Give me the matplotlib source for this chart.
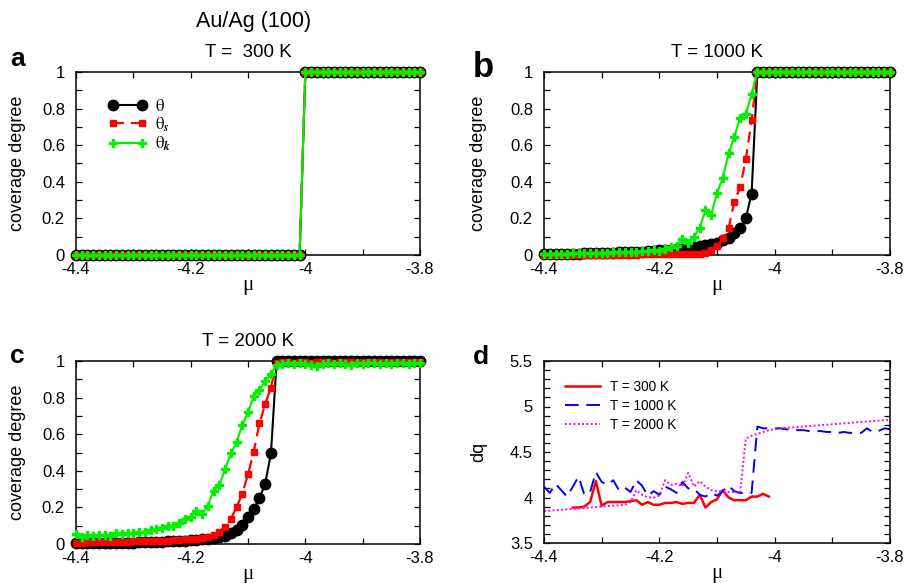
import numpy as np
import matplotlib
matplotlib.use("Agg")
import matplotlib.pyplot as plt
from matplotlib.ticker import MultipleLocator, FuncFormatter

plt.rcParams['font.family'] = ['Liberation Sans', 'DejaVu Sans']
plt.rcParams['mathtext.fontset'] = 'stix'
plt.rcParams['axes.unicode_minus'] = False

# ---------------- data ----------------
mu = np.round(np.linspace(-4.40, -3.80, 61), 2)

# panel a (T = 300 K): step between -4.01 and -4.00
a_theta = [0.0] * 40 + [1.0] * 21
a_theta_s = [0.0] * 40 + [1.0] * 21
a_theta_k = [0.0] * 40 + [1.0] * 21

# panel b (T = 1000 K): -4.40 .. -4.04, then 1 from -4.03
b_theta = [0.005, 0.005, 0.006, 0.006, 0.007, 0.007, 0.008, 0.009, 0.010, 0.010,
           0.011, 0.012, 0.013, 0.014, 0.015, 0.016, 0.018, 0.019, 0.021, 0.023,
           0.025, 0.027, 0.029, 0.032, 0.035, 0.038, 0.042, 0.047, 0.053, 0.060,
           0.068, 0.080, 0.095, 0.120, 0.145, 0.200, 0.335] + [1.0] * 24
b_theta_s = [0.001, 0.001, 0.001, 0.001, 0.001, 0.001, 0.001, 0.001, 0.001, 0.001,
             0.002, 0.002, 0.002, 0.002, 0.002, 0.002, 0.002, 0.003, 0.003, 0.003,
             0.003, 0.003, 0.004, 0.004, 0.004, 0.005, 0.005, 0.008, 0.012, 0.025,
             0.047, 0.093, 0.147, 0.289, 0.369, 0.524, 0.735] + [1.0] * 24
b_theta_k = [0.005, 0.006, 0.007, 0.007, 0.008, 0.009, 0.009, 0.010, 0.011, 0.012,
             0.012, 0.013, 0.014, 0.015, 0.016, 0.017, 0.018, 0.020, 0.022, 0.030,
             0.020, 0.035, 0.045, 0.050, 0.085, 0.065, 0.100, 0.150, 0.245, 0.220,
             0.340, 0.420, 0.555, 0.645, 0.750, 0.770, 0.880] + [1.0] * 24

# panel c (T = 2000 K): -4.40 .. -4.06, then near 1 from -4.05
c_theta = [0.003, 0.003, 0.004, 0.004, 0.005, 0.005, 0.006, 0.006, 0.007, 0.008,
           0.008, 0.009, 0.010, 0.011, 0.012, 0.013, 0.014, 0.016, 0.017, 0.019,
           0.021, 0.023, 0.026, 0.029, 0.033, 0.038, 0.046, 0.058, 0.077, 0.105,
           0.145, 0.190, 0.250, 0.330, 0.495] + [1.0] * 26
c_theta_s = [0.008, 0.008, 0.009, 0.009, 0.010, 0.010, 0.011, 0.011, 0.012, 0.013,
             0.014, 0.014, 0.015, 0.016, 0.017, 0.018, 0.019, 0.020, 0.022, 0.025,
             0.028, 0.030, 0.035, 0.040, 0.050, 0.067, 0.095, 0.137, 0.200, 0.275,
             0.380, 0.505, 0.660, 0.765, 0.855,
             0.990, 0.995, 0.995, 0.990, 0.995, 0.995, 0.990, 0.995, 0.995, 0.995,
             0.990, 0.995, 0.995, 0.995, 0.990, 0.995, 0.995, 0.995, 0.995, 0.990,
             0.995, 0.995, 0.995, 0.995, 0.995, 0.995]
c_theta_k = [0.055, 0.040, 0.050, 0.045, 0.050, 0.050, 0.045, 0.060, 0.055, 0.060,
             0.060, 0.065, 0.065, 0.075, 0.080, 0.090, 0.100, 0.100, 0.115, 0.135,
             0.150, 0.180, 0.165, 0.210, 0.290, 0.320, 0.410, 0.495, 0.555, 0.650,
             0.720, 0.810, 0.840, 0.890, 0.930,
             0.980, 0.985, 0.990, 0.985, 0.990, 0.985, 0.980, 0.975, 0.985, 0.990,
             0.985, 0.990, 0.985, 0.980, 0.990, 0.985, 0.990, 0.990, 0.985, 0.990,
             0.985, 0.990, 0.990, 0.985, 0.990, 0.990]

# panel d: dq
d_mu_300 = mu[5:40]
d_300 = [3.89, 3.89, 3.90, 3.95, 4.18, 3.91, 3.95, 3.95, 3.95, 3.95,
         3.96, 3.97, 3.92, 3.95, 3.92, 3.92, 3.94, 3.94, 3.95, 3.93,
         3.94, 3.94, 4.03, 3.89, 3.95, 3.98, 4.08, 4.00, 3.97, 3.97,
         3.97, 4.01, 4.01, 4.04, 4.01]
d_1000 = [4.12, 4.05, 4.15, 4.08, 4.01, 4.12, 4.23, 4.03, 4.06, 4.28,
          4.17, 4.14, 4.19, 4.08, 4.11, 4.06, 4.19, 4.13, 4.02, 4.07,
          4.03, 4.12, 4.09, 4.05, 4.17, 4.10, 4.10, 4.03, 4.01, 4.05,
          4.02, 4.07, 4.13, 4.07, 4.05, 4.05, 4.05, 4.78, 4.76, 4.76,
          4.76, 4.76, 4.75, 4.74, 4.74, 4.74, 4.73, 4.73, 4.73, 4.72,
          4.72, 4.71, 4.72, 4.71, 4.71, 4.71, 4.76, 4.72, 4.73, 4.76,
          4.75]
d_2000 = [3.85, 3.855, 3.86, 3.865, 3.87, 3.875, 3.88, 3.885, 3.89, 3.895,
          3.90, 3.905, 3.91, 3.915, 3.92, 3.95, 4.08, 4.03, 4.00, 4.00,
          4.02, 4.19, 4.14, 4.15, 4.12, 4.27, 4.12, 4.18, 4.12, 4.08,
          4.07, 4.07, 4.06, 4.06, 4.05, 4.65, 4.68, 4.70, 4.72, 4.74,
          4.75, 4.76, 4.765, 4.77, 4.775, 4.78, 4.785, 4.79, 4.795, 4.80,
          4.805, 4.81, 4.815, 4.82, 4.825, 4.83, 4.835, 4.84, 4.845, 4.85,
          4.85]

titles = ['T =  300 K', 'T = 1000 K', 'T = 2000 K']
legend_cov = [r'$\mathrm{\theta}$', r'$\mathrm{\theta}_{\mathbfit{s}}$',
              r'$\mathrm{\theta}_{\mathbfit{k}}$']
legend_dq = ['T = 300 K', 'T = 1000 K', 'T = 2000 K']

# ---------------- figure ----------------
W, H = 908, 583
fig = plt.figure(figsize=(W / 100, H / 100), dpi=100)

def rect(l, r, t, b):
    return [l / W, 1 - b / H, (r - l) / W, (b - t) / H]

ax_a = fig.add_axes(rect(76, 420, 72, 255))
ax_b = fig.add_axes(rect(544, 890, 72, 255))
ax_c = fig.add_axes(rect(76, 420, 361, 544))
ax_d = fig.add_axes(rect(544, 890, 361, 543))

BLACK, RED, GREEN = '#000000', '#ff0000', '#00f000'

def fmt(v, pos):
    return '%g' % v

def style(ax, ylo, yhi, ymaj, ymin, ylabel, ylx):
    ax.set_xlim(-4.4, -3.8)
    ax.set_ylim(ylo, yhi)
    ax.xaxis.set_major_locator(MultipleLocator(0.2))
    ax.xaxis.set_minor_locator(MultipleLocator(0.1))
    ax.yaxis.set_major_locator(MultipleLocator(ymaj))
    ax.yaxis.set_minor_locator(MultipleLocator(ymin))
    ax.xaxis.set_major_formatter(FuncFormatter(fmt))
    ax.yaxis.set_major_formatter(FuncFormatter(fmt))
    ax.tick_params(which='both', direction='in', top=True, right=True,
                   length=4, width=0.9, labelsize=12)
    ax.tick_params(axis='x', pad=5)
    ax.tick_params(axis='y', pad=8)
    for s in ax.spines.values():
        s.set_linewidth(1.1)
    ax.set_ylabel(ylabel, fontsize=13)
    ax.yaxis.set_label_coords(ylx, 0.5)
    ax.set_xlabel('μ', fontsize=15, labelpad=-1, family='Liberation Serif')

def cov(ax, th, ths, thk, ylx):
    ax.plot(mu, th, '-', color=BLACK, lw=1.5, marker='o', ms=7.5,
            mfc=BLACK, mec=BLACK, clip_on=False, zorder=3, label=legend_cov[0])
    ax.plot(mu, ths, '--', color=RED, lw=1.6, dashes=(5, 3), marker='s', ms=4.8,
            mfc=RED, mec=RED, clip_on=False, zorder=4, label=legend_cov[1])
    ax.plot(mu, thk, '-', color=GREEN, lw=1.5, marker='P', ms=5.5,
            mfc=GREEN, mec=GREEN, clip_on=False, zorder=5, label=legend_cov[2])
    style(ax, 0, 1, 0.2, 0.1, 'coverage degree', ylx)

cov(ax_a, a_theta, a_theta_s, a_theta_k, -0.145)
cov(ax_b, b_theta, b_theta_s, b_theta_k, -0.165)
cov(ax_c, c_theta, c_theta_s, c_theta_k, -0.145)

ax_a.set_title(titles[0], fontsize=13.5, pad=11)
ax_b.set_title(titles[1], fontsize=13.5, pad=11)
ax_c.set_title(titles[2], fontsize=13.5, pad=11)

ax_a.legend(loc='upper left', bbox_to_anchor=(0.075, 0.895), frameon=False,
            fontsize=12, handlelength=2.3, handletextpad=0.5,
            labelspacing=0.08, numpoints=2, borderaxespad=0)

# panel d
ax_d.plot(d_mu_300, d_300, '-', color=RED, lw=1.8, label=legend_dq[0])
ax_d.plot(mu, d_1000, '--', color='#0000ff', lw=1.4, dashes=(7, 4), label=legend_dq[1])
ax_d.plot(mu, d_2000, ':', color='#ff00ff', lw=1.4, dashes=(1, 1.2), label=legend_dq[2])
style(ax_d, 3.5, 5.5, 0.5, 0.1, 'dq', -0.165)
ax_d.legend(loc='upper left', bbox_to_anchor=(0.045, 0.925), frameon=False,
            fontsize=9.8, handlelength=2.6, handletextpad=0.7,
            labelspacing=0.35, borderaxespad=0)

# texts
fig.text(254 / W, 1 - 22 / H, 'Au/Ag (100)', fontsize=15.5, ha='center', va='center')
fig.text(10 / W, 1 - 66 / H, 'a', fontsize=19, fontweight='bold', ha='left', va='baseline')
fig.text(473 / W, 1 - 77 / H, 'b', fontsize=25, fontweight='bold', ha='left', va='baseline')
fig.text(10 / W, 1 - 363 / H, 'c', fontsize=19, fontweight='bold', ha='left', va='baseline')
fig.text(473 / W, 1 - 364 / H, 'd', fontsize=19, fontweight='bold', ha='left', va='baseline')

fig.savefig('out.png', dpi=100)
